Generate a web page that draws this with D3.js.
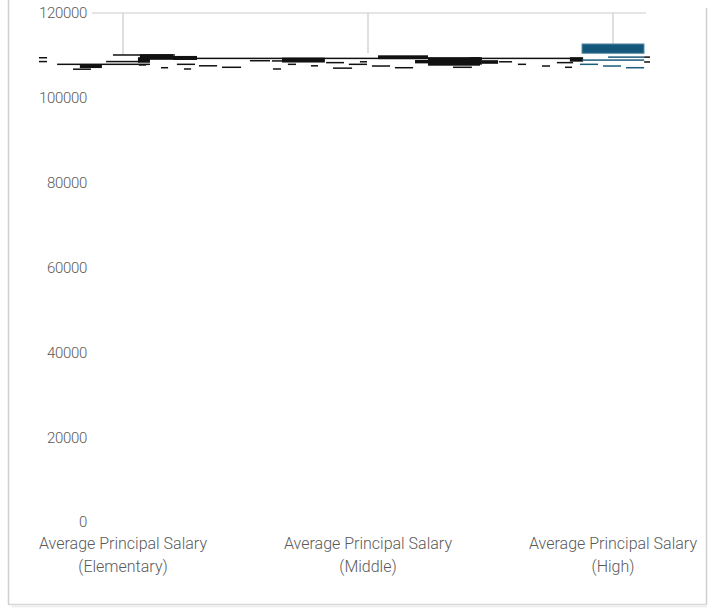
<!DOCTYPE html>
<html><head><meta charset="utf-8">
<script src="https://cdn.jsdelivr.net/npm/d3@7"></script>
<style>html,body{margin:0;padding:0;background:#fff;}svg{display:block;}</style>
</head><body>
<svg id="chart" width="715" height="609"></svg>
<script>
// ---- data ----
const categories = ["Average Principal Salary (Elementary)", "Average Principal Salary (Middle)", "Average Principal Salary (High)"];
const labelLine1 = ["Average Principal Salary", "Average Principal Salary", "Average Principal Salary"];
const labelLine2 = ["(Elementary)", "(Middle)", "(High)"];
const yTicks = [0, 20000, 40000, 60000, 80000, 100000, 120000];
// whiskers (upper end runs off the top of the plot)
const whiskerLow = [110100, 110550, 112700];
const whiskerHigh = [135000, 135000, 135000];
// High box
const boxQ1 = [null, null, 110500];
const boxQ3 = [null, null, 112700];
// horizontal marks: start / end in category units, low / high salary, series
const segStart = [-0.343,-0.343,-0.269,-0.176,-0.204,-0.041,-0.069,0.061,0.065,0.069,0.204,0.069,0.155,0.220,0.249,0.310,0.404,0.518,0.608,0.649,0.673,0.612,0.767,0.829,0.857,0.922,0.967,1.016,1.041,1.110,1.192,1.245,1.347,1.416,1.465,1.535,1.612,1.710,1.771,1.804,1.824,2.127,2.127,
                  1.873,1.980,1.865,1.959,2.053];
const segEnd   = [-0.310,-0.310,0.110,-0.086,-0.131,0.212,0.069,0.110,0.094,0.204,0.302,1.873,0.184,0.294,0.278,0.384,0.482,0.600,0.649,0.824,0.706,0.645,0.796,0.902,0.935,0.996,0.996,1.090,1.245,1.184,1.286,1.457,1.424,1.465,1.531,1.588,1.645,1.743,1.837,1.833,1.878,2.151,2.151,
                  2.127,2.127,1.939,2.033,2.127];
const segLow   = [109450,108550,107900,107200,106750,110100,108550,108450,107750,109150,109100,109300,107100,107900,106800,107550,107200,108750,108700,108500,107900,106800,107550,108300,107000,107900,108500,107500,109300,107100,108300,107750,107200,108000,108200,108500,107900,107500,108300,107200,108700,109600,108450,
                  108900,109600,107900,107500,107100];
const segHigh  = [109450,108550,107900,107600,106750,110100,108550,109400,107750,110100,109700,109300,107100,107900,106800,107550,107200,108750,108700,109300,107900,106800,107550,108300,107000,107900,108500,107500,109850,107100,108750,109400,107200,109400,108700,108500,107900,107500,108300,107200,109400,109600,108450,
                  108900,109600,107900,107500,107100];
const segSeries = [0,0,0,0,0,0,0,0,0,0,0,0,0,0,0,0,0,1,1,1,1,1,1,1,1,1,1,1,1,1,1,1,1,1,1,1,1,1,1,1,1,1,1,
                   2,2,2,2,2];
const seriesColors = ["#111111", "#111111", "#1a5d7c"];

// ---- drawing ----
const svg = d3.select("#chart");
const font = "Roboto, 'Open Sans', sans-serif";
const plotTop = 13, plotBottom = 522;

const x = d3.scalePoint().domain(categories).range([123, 613]);
const xu = d3.scaleLinear().domain([0, 2]).range([123, 613]);
const y = d3.scaleLinear().domain([0, 120000]).range([plotBottom, plotTop]);

// frame
const frame = svg.append("g");
frame.append("line").attr("x1", 8.5).attr("x2", 8.5).attr("y1", 0).attr("y2", 604).attr("stroke", "#cfcfcf").attr("stroke-width", 1.5);
frame.append("line").attr("x1", 706.5).attr("x2", 706.5).attr("y1", 8).attr("y2", 604).attr("stroke", "#cfcfcf").attr("stroke-width", 1.5);
frame.append("line").attr("x1", 8).attr("x2", 707).attr("y1", 604.5).attr("y2", 604.5).attr("stroke", "#d6d6d6").attr("stroke-width", 1.5);
frame.append("line").attr("x1", 12).attr("x2", 707).attr("y1", 606.5).attr("y2", 606.5).attr("stroke", "#ececec").attr("stroke-width", 1.5);

// top gridline
svg.append("line").attr("x1", 92).attr("x2", 646).attr("y1", y(120000)).attr("y2", y(120000))
  .attr("stroke", "#dcdcdc").attr("stroke-width", 1.5);

// y axis labels
svg.append("g").selectAll("text").data(yTicks).join("text")
  .attr("x", 87).attr("y", d => y(d)).attr("dy", "0.36em")
  .attr("text-anchor", "end").attr("font-family", font).attr("font-weight", 300)
  .attr("font-size", 15).attr("letter-spacing", -0.3).attr("fill", "#5a5a5a")
  .text(d => d);

// x labels
const xl = svg.append("g");
xl.selectAll("text.l1").data(categories).join("text").attr("class", "l1")
  .attr("x", d => x(d)).attr("y", 549).attr("text-anchor", "middle")
  .attr("font-family", font).attr("font-weight", 300).attr("font-size", 16).attr("fill", "#5a5a5a")
  .text((d, i) => labelLine1[i]);
xl.selectAll("text.l2").data(categories).join("text").attr("class", "l2")
  .attr("x", d => x(d)).attr("y", 572).attr("text-anchor", "middle")
  .attr("font-family", font).attr("font-weight", 300).attr("font-size", 16).attr("fill", "#5a5a5a")
  .text((d, i) => labelLine2[i]);

// clip
svg.append("clipPath").attr("id", "plotclip").append("rect")
  .attr("x", 0).attr("y", plotTop).attr("width", 715).attr("height", 609 - plotTop);
const plot = svg.append("g").attr("clip-path", "url(#plotclip)");

// whiskers
plot.selectAll("line.wh").data(categories).join("line").attr("class", "wh")
  .attr("x1", d => x(d)).attr("x2", d => x(d))
  .attr("y1", (d, i) => y(whiskerHigh[i])).attr("y2", (d, i) => y(whiskerLow[i]))
  .attr("stroke", "#d4d4d4").attr("stroke-width", 1.5);

// boxes
const boxW = 62;
const boxData = categories.map((c, i) => ({c, q1: boxQ1[i], q3: boxQ3[i]})).filter(d => d.q1 != null);
plot.selectAll("rect.box").data(boxData).join("rect").attr("class", "box")
  .attr("x", d => x(d.c) - boxW / 2).attr("width", boxW)
  .attr("y", d => y(d.q3))
  .attr("height", d => y(d.q1) - y(d.q3))
  .attr("fill", "#13587a").attr("stroke", "#5d8fa6").attr("stroke-width", 1);

// horizontal marks
const segs = segStart.map((s, i) => ({s, e: segEnd[i], lo: segLow[i], hi: segHigh[i], k: segSeries[i]}));
plot.selectAll("rect.seg").data(segs).join("rect").attr("class", "seg")
  .attr("x", d => xu(d.s)).attr("width", d => xu(d.e) - xu(d.s))
  .attr("y", d => Math.min(y(d.hi), y(d.lo)) - 0.75)
  .attr("height", d => Math.abs(y(d.lo) - y(d.hi)) + 1.5)
  .attr("fill", d => seriesColors[d.k]);
</script>
</body></html>
